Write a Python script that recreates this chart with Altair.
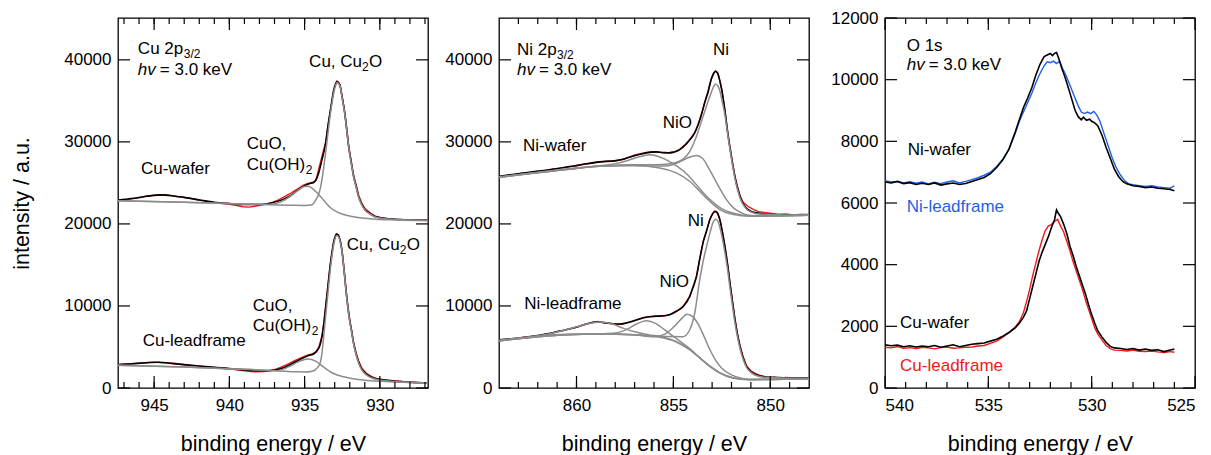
import altair as alt
import pandas as pd

FONT = "Liberation Sans"
GRAY = "#8c8c8c"
RED = "#f01818"
BLUE = "#1f5fe6"

# ---------------- Cu 2p3/2 ----------------
cu_wafer_data = [(947.4, 22800), (947.1, 22950), (946.8, 22900), (946.5, 23050), (946.2, 23150), (945.9, 23200),
                 (945.5, 23400), (945.1, 23450), (944.7, 23500), (944.3, 23550), (943.9, 23450), (943.5, 23350),
                 (943.1, 23300), (942.7, 23150), (942.3, 23050), (941.9, 22900), (941.5, 22750), (941.1, 22600),
                 (940.7, 22550), (940.3, 22450), (939.9, 22350), (939.5, 22250), (939.1, 22100), (938.7, 22050),
                 (938.3, 22150), (937.9, 22300), (937.5, 22450), (937.1, 22650), (936.7, 22950), (936.3, 23350),
                 (936.0, 23650), (935.7, 24000), (935.4, 24350), (935.1, 24700), (934.8, 24950), (934.5, 25050),
                 (934.25, 25300), (934.1, 26400), (933.85, 28200), (933.6, 30000), (933.45, 31900), (933.28, 33900),
                 (933.06, 36300), (932.85, 37400), (932.65, 36950), (932.5, 35450), (932.33, 33550), (932.2, 31600),
                 (932.07, 29500), (931.9, 27600), (931.74, 25900), (931.55, 24600), (931.41, 23500), (931.2, 22550),
                 (930.97, 21850), (930.6, 21300), (930.31, 20950), (930.0, 20780), (929.7, 20700), (929.3, 20620),
                 (929.0, 20560), (928.6, 20530), (928.2, 20480), (927.8, 20500), (927.4, 20440), (927.0, 20460),
                 (926.8, 20420)]
cu_wafer_fit = [(947.4, 22900), (946.5, 23090), (945.5, 23370), (944.6, 23540), (943.7, 23410), (942.8, 23170),
                (941.9, 22890), (941.0, 22640), (940.0, 22480), (939.0, 22360), (938.0, 22360), (937.3, 22520),
                (936.5, 22930), (936.0, 23370), (935.5, 24060), (935.0, 24670), (934.7, 24900), (934.4, 25050),
                (934.1, 26000), (933.85, 27800), (933.6, 29840), (933.45, 31900), (933.28, 33900), (933.06, 36340),
                (932.85, 37350), (932.65, 36900), (932.5, 35400), (932.33, 33500), (932.2, 31500), (932.07, 29430),
                (931.9, 27500), (931.74, 25770), (931.55, 24400), (931.41, 23330), (931.2, 22400), (930.97, 21710),
                (930.6, 21200), (930.31, 20890), (929.7, 20680), (929.0, 20570), (928.0, 20500), (926.8, 20450)]
cu_wafer_main = [(947.4, 22810), (943.0, 22650), (938.6, 22400), (936.0, 22280), (935.0, 22250), (934.5, 22330),
                 (934.26, 22900), (934.05, 23700), (933.93, 24550), (933.72, 26990), (933.5, 30240), (933.28, 33500),
                 (933.06, 36000), (932.85, 37230), (932.65, 36800), (932.5, 35300), (932.33, 33400), (932.2, 31400),
                 (932.07, 29350), (931.9, 27400), (931.74, 25700), (931.55, 24300), (931.41, 23250), (931.2, 22300),
                 (930.97, 21650), (930.6, 21150), (930.31, 20850), (929.7, 20640), (929.0, 20540), (928.0, 20470),
                 (926.8, 20420)]
cu_wafer_cuo = [(947.4, 22810), (943.0, 22650), (938.6, 22420), (937.33, 22400), (936.8, 22550), (936.4, 22850),
                (936.0, 23300), (935.5, 24000), (935.03, 24550), (934.8, 24600), (934.6, 24480), (934.26, 23950),
                (933.9, 23250), (933.6, 22600), (933.3, 22000), (932.95, 21550), (932.4, 21150), (931.85, 20900),
                (931.0, 20700), (930.31, 20580), (929.0, 20480), (927.5, 20420), (926.8, 20400)]

cu_lead_data = [(947.4, 2800), (947.0, 2900), (946.6, 2920), (946.2, 3000), (945.8, 3050), (945.4, 3100),
                (945.0, 3150), (944.6, 3100), (944.2, 3080), (943.8, 2980), (943.4, 2900), (943.0, 2830),
                (942.6, 2750), (942.2, 2700), (941.8, 2620), (941.4, 2580), (941.0, 2500), (940.6, 2430),
                (940.2, 2350), (939.8, 2280), (939.4, 2180), (939.0, 2100), (938.6, 2000), (938.2, 1980),
                (937.8, 2020), (937.4, 2100), (937.0, 2250), (936.6, 2500), (936.3, 2750), (936.0, 3000),
                (935.7, 3300), (935.4, 3550), (935.1, 3800), (934.8, 4000), (934.5, 4150), (934.25, 4400),
                (934.05, 5000), (933.85, 6300), (933.72, 7950), (933.5, 11600), (933.28, 15250), (933.06, 17900),
                (932.88, 18800), (932.75, 18650), (932.62, 17900), (932.5, 16550), (932.4, 14850), (932.18, 10800),
                (932.0, 8300), (931.89, 7150), (931.75, 5650), (931.59, 4400), (931.4, 3250), (931.2, 2450),
                (930.9, 1800), (930.54, 1380), (930.2, 1150), (929.8, 1020), (929.4, 950), (929.0, 850),
                (928.6, 820), (928.2, 720), (927.8, 700), (927.4, 640), (927.0, 650), (926.8, 600)]
cu_lead_fit = [(947.4, 2850), (946.5, 2950), (945.5, 3080), (944.7, 3130), (943.8, 3000), (943.0, 2850),
               (942.0, 2680), (941.0, 2520), (940.0, 2380), (939.0, 2200), (938.2, 2110), (937.3, 2110),
               (936.5, 2400), (936.0, 2800), (935.5, 3300), (935.0, 3750), (934.7, 3980), (934.4, 4150),
               (934.15, 4600), (934.0, 5100), (933.85, 6200), (933.72, 7890), (933.5, 11550), (933.28, 15200),
               (933.06, 17840), (932.88, 18780), (932.75, 18600), (932.62, 17840), (932.5, 16500), (932.4, 14790),
               (932.18, 10730), (932.0, 8200), (931.89, 7070), (931.75, 5500), (931.59, 4230), (931.4, 3100),
               (931.2, 2300), (930.9, 1700), (930.54, 1300), (930.0, 1050), (929.44, 900), (928.5, 760),
               (927.5, 650), (926.8, 600)]
cu_lead_main = [(947.4, 2760), (943.0, 2560), (938.6, 2240), (936.9, 2110), (935.5, 1980), (935.0, 1950),
                (934.5, 2050), (934.24, 2300), (934.0, 2900), (933.85, 4200), (933.72, 6500), (933.5, 10600),
                (933.28, 14600), (933.06, 17500), (932.88, 18600), (932.75, 18450), (932.62, 17700), (932.5, 16400),
                (932.4, 14700), (932.18, 10650), (932.0, 8100), (931.89, 7000), (931.75, 5430), (931.59, 4150),
                (931.4, 3000), (931.2, 2200), (930.9, 1600), (930.54, 1220), (930.0, 980), (929.44, 840),
                (928.5, 720), (927.5, 620), (926.8, 580)]
cu_lead_cuo = [(947.4, 2760), (943.0, 2560), (938.6, 2240), (936.9, 2110), (936.4, 2300), (936.0, 2640),
               (935.34, 3250), (934.8, 3540), (934.24, 3250), (933.8, 2640), (933.15, 1830), (932.5, 1400),
               (932.05, 1220), (931.0, 950), (929.86, 810), (928.5, 700), (927.0, 610), (926.8, 600)]

# ---------------- Ni 2p3/2 ----------------
ni_wafer_data = [(864.0, 25700), (863.6, 25900), (863.2, 26000), (862.8, 26200), (862.4, 26250), (862.0, 26450),
                 (861.6, 26500), (861.2, 26700), (860.8, 26800), (860.4, 27000), (860.0, 27050), (859.6, 27300),
                 (859.2, 27400), (858.8, 27550), (858.4, 27650), (858.0, 27700), (857.6, 27850), (857.3, 28100),
                 (857.0, 28400), (856.7, 28550), (856.4, 28700), (856.1, 28800), (855.8, 28750), (855.5, 28650),
                 (855.2, 28700), (854.9, 28850), (854.67, 29100), (854.33, 29800), (854.1, 30450), (853.9, 31150),
                 (853.72, 32150), (853.55, 33350), (853.38, 34850), (853.2, 36200), (853.05, 37650), (852.95, 38250),
                 (852.83, 38650), (852.72, 38450), (852.64, 37850), (852.5, 36350), (852.34, 33850), (852.2, 31250),
                 (852.08, 29350), (851.95, 27450), (851.82, 25800), (851.69, 24500), (851.56, 23450), (851.4, 22650),
                 (851.13, 22100), (850.9, 21800), (850.6, 21500), (850.3, 21400), (850.0, 21300), (849.6, 21150),
                 (849.2, 21200), (848.8, 21080), (848.4, 21150), (848.0, 21100)]
ni_wafer_fit = [(864.0, 25810), (863.0, 26100), (862.27, 26340), (861.4, 26600), (860.55, 26910), (859.7, 27250),
                (858.8, 27560), (857.95, 27720), (857.5, 27950), (857.1, 28250), (856.7, 28500), (856.4, 28660),
                (855.9, 28780), (855.5, 28700), (855.2, 28660), (854.9, 28800), (854.67, 29060), (854.33, 29760),
                (854.1, 30400), (853.9, 31100), (853.72, 32100), (853.55, 33330), (853.38, 34800), (853.2, 36180),
                (853.05, 37600), (852.95, 38210), (852.83, 38600), (852.72, 38400), (852.64, 37800), (852.5, 36300),
                (852.34, 33800), (852.2, 31200), (852.08, 29300), (851.95, 27400), (851.82, 25700), (851.69, 24400),
                (851.56, 23350), (851.4, 22500), (851.22, 21900), (851.0, 21550), (850.7, 21350), (850.2, 21200),
                (849.3, 21100), (848.0, 21130)]
ni_wafer_ni = [(864.0, 25760), (862.0, 26300), (860.55, 26700), (858.8, 27050), (857.1, 27200), (856.0, 27200),
               (855.02, 27400), (854.5, 27890), (854.16, 28820), (853.81, 30650), (853.47, 33090), (853.12, 35520),
               (852.95, 36600), (852.83, 37070), (852.7, 36800), (852.6, 36200), (852.47, 34800), (852.34, 33300),
               (852.2, 31000), (852.08, 29100), (851.95, 27200), (851.82, 25500), (851.69, 24200), (851.56, 23150),
               (851.4, 22350), (851.22, 21800), (850.95, 21420), (850.7, 21250), (849.32, 21100), (848.0, 21120)]
ni_wafer_nio = [(864.0, 25690), (860.55, 26630), (858.8, 27030), (857.1, 27110), (856.2, 27050), (855.5, 27050),
                (855.0, 27250), (854.6, 27650), (854.2, 28100), (853.81, 28330), (853.5, 28000), (853.2, 26900),
                (852.9, 25600), (852.6, 24300), (852.25, 22930), (851.9, 21950), (851.56, 21450), (851.2, 21100),
                (850.5, 20980), (849.0, 21000), (848.0, 21060)]
ni_wafer_sat = [(864.0, 25690), (860.55, 26630), (859.5, 26900), (858.8, 27100), (858.0, 27350), (857.4, 27700),
                (856.8, 28150), (856.23, 28420), (855.7, 28150), (855.2, 27600), (854.8, 27000), (854.4, 26300),
                (854.0, 25300), (853.64, 24300), (853.12, 23000), (852.6, 22000), (851.9, 21300), (851.05, 21000),
                (848.0, 21060)]
ni_wafer_bg = [(864.0, 25690), (860.55, 26630), (858.8, 27030), (857.1, 27110), (855.7, 26830), (854.85, 26220),
               (854.16, 25200), (853.64, 23980), (853.12, 22760), (852.6, 21750), (851.9, 21140), (851.05, 20930),
               (848.0, 21060)]

ni_lead_data = [(864.0, 5750), (863.7, 5800), (863.4, 6000), (863.1, 6050), (862.8, 6150), (862.5, 6250),
                (862.2, 6300), (861.9, 6400), (861.6, 6550), (861.3, 6650), (861.0, 6900), (860.7, 7000),
                (860.4, 7200), (860.1, 7350), (859.8, 7550), (859.5, 7800), (859.2, 7950), (858.9, 8100),
                (858.6, 7950), (858.3, 7900), (858.0, 7800), (857.7, 7750), (857.4, 7900), (857.1, 8150),
                (856.8, 8400), (856.5, 8600), (856.2, 8700), (855.9, 8800), (855.6, 8750), (855.3, 8850),
                (855.0, 9100), (854.8, 9400), (854.5, 9950), (854.16, 11150), (853.98, 12350), (853.81, 13600),
                (853.64, 15750), (853.45, 17950), (853.29, 19150), (853.12, 20550), (852.98, 21250), (852.86, 21580),
                (852.75, 21450), (852.6, 20550), (852.47, 19050), (852.34, 17300), (852.2, 15050), (852.08, 12850),
                (851.95, 10600), (851.82, 8400), (851.69, 6600), (851.56, 5150), (851.4, 3800), (851.22, 2700),
                (851.0, 2100), (850.7, 1700), (850.4, 1450), (850.1, 1300), (849.8, 1350), (849.5, 1200),
                (849.2, 1280), (848.9, 1250), (848.6, 1180), (848.3, 1230), (848.0, 1200)]
ni_lead_fit = [(864.0, 5890), (863.0, 6080), (862.27, 6300), (861.5, 6600), (860.9, 6910), (860.03, 7400),
               (859.5, 7800), (859.0, 8050), (858.7, 8020), (858.47, 7930), (858.1, 7830), (857.78, 7800),
               (857.4, 7950), (857.1, 8130), (856.7, 8450), (856.4, 8620), (855.88, 8740), (855.5, 8800),
               (855.2, 8940), (854.85, 9350), (854.5, 9900), (854.16, 11130), (853.98, 12300), (853.81, 13570),
               (853.64, 15700), (853.45, 17900), (853.29, 19100), (853.12, 20500), (852.98, 21200), (852.86, 21520),
               (852.75, 21400), (852.6, 20490), (852.47, 19000), (852.34, 17230), (852.2, 15000), (852.08, 12770),
               (851.95, 10500), (851.82, 8290), (851.69, 6500), (851.56, 5040), (851.4, 3700), (851.22, 2600),
               (851.0, 2000), (850.7, 1590), (850.2, 1350), (849.32, 1250), (848.5, 1200), (848.0, 1220)]
ni_lead_ni = [(864.0, 5800), (860.55, 6550), (858.0, 6580), (856.5, 6420), (855.36, 6280), (854.5, 6260),
              (854.16, 7070), (853.9, 9110), (853.64, 13170), (853.45, 15600), (853.29, 17230), (853.1, 19000),
              (852.95, 20200), (852.83, 20570), (852.72, 20400), (852.6, 19600), (852.47, 18200), (852.34, 16500),
              (852.2, 14400), (852.08, 12200), (851.95, 10000), (851.82, 7900), (851.69, 6200), (851.56, 4800),
              (851.4, 3500), (851.22, 2500), (851.0, 1900), (850.7, 1500), (850.2, 1300), (849.32, 1230),
              (848.0, 1180)]
ni_lead_nio = [(864.0, 5770), (860.55, 6500), (858.8, 6590), (857.1, 6500), (856.0, 6250), (855.5, 6500),
               (855.0, 7400), (854.6, 8400), (854.3, 9000), (854.0, 8700), (853.7, 7700), (853.4, 6200),
               (853.1, 4600), (852.8, 3300), (852.5, 2400), (852.0, 1600), (851.5, 1200), (851.05, 1050),
               (848.0, 1140)]
ni_lead_sat2 = [(864.0, 5770), (860.55, 6500), (858.8, 6600), (858.0, 6700), (857.4, 7150), (856.9, 7800),
                (856.4, 8210), (855.9, 7850), (855.4, 7000), (855.0, 6300), (854.5, 5400), (854.16, 4800),
                (853.64, 3700), (853.12, 2660), (852.6, 1850), (851.9, 1230), (851.05, 1030), (848.0, 1140)]
ni_lead_sat1 = [(864.0, 5770), (862.5, 6150), (861.5, 6550), (860.7, 7000), (860.0, 7450), (859.4, 7850),
                (858.8, 8050), (858.2, 7850), (857.6, 7300), (857.0, 6850), (856.3, 6500), (855.5, 6200),
                (854.85, 5650), (854.16, 4700), (853.64, 3680), (853.12, 2660), (852.6, 1850), (851.9, 1230),
                (851.05, 1030), (848.0, 1140)]
ni_lead_bg = [(864.0, 5770), (860.55, 6500), (858.8, 6590), (857.1, 6500), (855.7, 6180), (854.85, 5610),
              (854.16, 4670), (853.64, 3660), (853.12, 2640), (852.6, 1830), (851.9, 1220), (851.05, 1020),
              (848.0, 1140)]

# ---------------- O 1s ----------------
o_ni_wafer = [(540.0, 6680), (539.7, 6650), (539.4, 6700), (539.1, 6630), (538.8, 6660), (538.5, 6600),
              (538.2, 6640), (537.9, 6600), (537.6, 6650), (537.3, 6580), (537.0, 6620), (536.7, 6650),
              (536.4, 6600), (536.1, 6630), (535.8, 6700), (535.5, 6760), (535.2, 6830), (534.9, 6950),
              (534.6, 7150), (534.3, 7400), (534.0, 7750), (533.7, 8300), (533.5, 8700), (533.3, 9100),
              (533.1, 9400), (532.9, 9730), (532.7, 10150), (532.5, 10500), (532.3, 10750), (532.15, 10800),
              (532.0, 10850), (531.9, 10780), (531.8, 10850), (531.7, 10880), (531.6, 10700), (531.45, 10380),
              (531.3, 10100), (531.2, 9890), (531.0, 9450), (530.8, 9000), (530.65, 8800), (530.5, 8700),
              (530.4, 8780), (530.25, 8680), (530.1, 8720), (530.0, 8650), (529.85, 8600), (529.7, 8500),
              (529.5, 8200), (529.3, 7800), (529.1, 7450), (528.9, 7100), (528.7, 6860), (528.5, 6700),
              (528.3, 6620), (528.0, 6560), (527.7, 6540), (527.4, 6500), (527.1, 6520), (526.8, 6480),
              (526.5, 6460), (526.2, 6440), (526.0, 6400)]
o_ni_lead = [(540.0, 6720), (539.7, 6680), (539.4, 6700), (539.1, 6650), (538.8, 6690), (538.5, 6640),
             (538.2, 6680), (537.9, 6620), (537.6, 6670), (537.3, 6630), (537.0, 6680), (536.7, 6720),
             (536.4, 6650), (536.1, 6700), (535.8, 6760), (535.5, 6820), (535.2, 6900), (534.9, 7000),
             (534.6, 7180), (534.3, 7420), (534.0, 7750), (533.7, 8250), (533.5, 8650), (533.3, 8950),
             (533.1, 9250), (532.9, 9550), (532.7, 9900), (532.5, 10200), (532.3, 10450), (532.15, 10580),
             (532.0, 10550), (531.85, 10600), (531.7, 10520), (531.55, 10600), (531.4, 10350), (531.25, 10150),
             (531.1, 9900), (530.95, 9650), (530.8, 9400), (530.65, 9150), (530.5, 8950), (530.35, 8900),
             (530.2, 8950), (530.05, 8900), (529.9, 8970), (529.75, 8850), (529.6, 8650), (529.4, 8250),
             (529.2, 7850), (529.0, 7450), (528.8, 7130), (528.6, 6900), (528.4, 6720), (528.2, 6620),
             (528.0, 6590), (527.7, 6560), (527.4, 6540), (527.1, 6560), (526.8, 6520), (526.5, 6500),
             (526.2, 6480), (526.0, 6560)]
o_cu_wafer = [(540.0, 1400), (539.7, 1370), (539.4, 1390), (539.1, 1340), (538.8, 1370), (538.5, 1330),
              (538.2, 1360), (537.9, 1340), (537.6, 1380), (537.3, 1320), (537.0, 1360), (536.7, 1400),
              (536.4, 1340), (536.1, 1380), (535.8, 1420), (535.5, 1440), (535.2, 1460), (534.9, 1520),
              (534.6, 1580), (534.3, 1680), (534.0, 1800), (533.7, 1950), (533.5, 2100), (533.3, 2300),
              (533.15, 2500), (533.0, 2900), (532.85, 3300), (532.7, 3700), (532.55, 4100), (532.4, 4400),
              (532.25, 4650), (532.1, 4900), (531.95, 5200), (531.8, 5450), (531.7, 5780), (531.6, 5650),
              (531.5, 5550), (531.35, 5300), (531.2, 5000), (531.05, 4600), (530.9, 4300), (530.75, 3950),
              (530.6, 3650), (530.45, 3350), (530.3, 3050), (530.15, 2700), (530.0, 2380), (529.85, 2100),
              (529.7, 1850), (529.5, 1650), (529.3, 1480), (529.1, 1350), (528.9, 1300), (528.6, 1280),
              (528.3, 1250), (528.0, 1280), (527.7, 1230), (527.4, 1260), (527.1, 1220), (526.8, 1240),
              (526.5, 1180), (526.2, 1230), (526.0, 1260)]
o_cu_lead = [(540.0, 1320), (539.7, 1300), (539.4, 1340), (539.1, 1290), (538.8, 1310), (538.5, 1280),
             (538.2, 1320), (537.9, 1300), (537.6, 1270), (537.3, 1310), (537.0, 1330), (536.7, 1290),
             (536.4, 1300), (536.1, 1320), (535.8, 1330), (535.5, 1360), (535.2, 1380), (534.9, 1450),
             (534.6, 1520), (534.3, 1650), (534.0, 1800), (533.7, 1980), (533.5, 2150), (533.3, 2450),
             (533.15, 2800), (533.0, 3200), (532.85, 3650), (532.7, 4050), (532.55, 4450), (532.4, 4800),
             (532.25, 5100), (532.1, 5250), (531.95, 5300), (531.8, 5400), (531.65, 5470), (531.5, 5250),
             (531.35, 5050), (531.2, 4750), (531.05, 4450), (530.9, 4100), (530.75, 3800), (530.6, 3500),
             (530.45, 3200), (530.3, 2850), (530.15, 2550), (530.0, 2250), (529.85, 1950), (529.7, 1750),
             (529.5, 1550), (529.3, 1380), (529.1, 1280), (528.9, 1230), (528.6, 1220), (528.3, 1200),
             (528.0, 1230), (527.7, 1190), (527.4, 1180), (527.1, 1200), (526.8, 1170), (526.5, 1150),
             (526.2, 1180), (526.0, 1160)]

# axis tick values
cu_x_major = [945, 940, 935, 930]
cu_x_minor = list(range(927, 948))
ni_x_major = [860, 855, 850]
ni_x_minor = list(range(849, 864))
o_x_major = [540, 535, 530, 525]
o_x_minor = list(range(526, 540))
big_y_major = [0, 10000, 20000, 30000, 40000]
o_y_major = [0, 2000, 4000, 6000, 8000, 10000, 12000]

# annotations: (text, E, I, dx, dy, size, style, color)
cu_notes = [
    ("Cu 2p", 946.08, 40730, 0, 0, 17, "normal", "black"),
    ("3/2", 946.08, 40730, 46, 4, 12, "normal", "black"),
    ("hv", 946.08, 38210, 0, 0, 17, "italic", "black"),
    ("= 3.0 keV", 946.08, 38210, 22, 0, 17, "normal", "black"),
    ("Cu, Cu", 934.7, 39110, 0, 0, 17, "normal", "black"),
    ("2", 934.7, 39110, 53, 4, 12, "normal", "black"),
    ("O", 934.7, 39110, 60, 0, 17, "normal", "black"),
    ("CuO,", 938.85, 29150, 0, 0, 17, "normal", "black"),
    ("Cu(OH)", 938.85, 26620, 0, 0, 17, "normal", "black"),
    ("2", 938.85, 26620, 59, 4, 12, "normal", "black"),
    ("Cu-wafer", 945.87, 26100, 0, 0, 17, "normal", "black"),
    ("Cu, Cu", 932.2, 16870, 0, 0, 17, "normal", "black"),
    ("2", 932.2, 16870, 53, 4, 12, "normal", "black"),
    ("O", 932.2, 16870, 60, 0, 17, "normal", "black"),
    ("CuO,", 938.45, 9390, 0, 0, 17, "normal", "black"),
    ("Cu(OH)", 938.45, 6950, 0, 0, 17, "normal", "black"),
    ("2", 938.45, 6950, 59, 4, 12, "normal", "black"),
    ("Cu-leadframe", 945.76, 5120, 0, 0, 17, "normal", "black"),
]
ni_notes = [
    ("Ni 2p", 863.07, 40650, 0, 0, 17, "normal", "black"),
    ("3/2", 863.07, 40650, 40, 4, 12, "normal", "black"),
    ("hv", 863.07, 38210, 0, 0, 17, "italic", "black"),
    ("= 3.0 keV", 863.07, 38210, 22, 0, 17, "normal", "black"),
    ("Ni", 852.96, 40570, 0, 0, 17, "normal", "black"),
    ("NiO", 855.55, 31710, 0, 0, 17, "normal", "black"),
    ("Ni-wafer", 862.76, 28870, 0, 0, 17, "normal", "black"),
    ("Ni", 854.26, 19720, 0, 0, 17, "normal", "black"),
    ("NiO", 855.71, 12280, 0, 0, 17, "normal", "black"),
    ("Ni-leadframe", 862.7, 9630, 0, 0, 17, "normal", "black"),
]
o_notes = [
    ("O 1s", 538.95, 10920, 0, 0, 17, "normal", "black"),
    ("hv", 538.95, 10300, 0, 0, 17, "italic", "black"),
    ("= 3.0 keV", 538.95, 10300, 22, 0, 17, "normal", "black"),
    ("Ni-wafer", 538.9, 7570, 0, 0, 17, "normal", "black"),
    ("Ni-leadframe", 538.95, 5700, 0, 0, 17, "normal", BLUE),
    ("Cu-wafer", 539.27, 1950, 0, 0, 17, "normal", "black"),
    ("Cu-leadframe", 539.27, 540, 0, 0, 17, "normal", RED),
]

W, H = 310, 370
MAJ, MIN = 12, 6


def frame(pairs, name):
    return pd.DataFrame({"E": [p[0] for p in pairs], "I": [p[1] for p in pairs], "s": name})


def panel(xdom, ydom, black, gray, red, blue, xmaj, xmin, ymaj, notes, ytitle, fit_interp="monotone",
          ylabpad=7):
    xs = alt.Scale(domain=xdom, nice=False, zero=False)
    ys = alt.Scale(domain=ydom, nice=False, zero=False)
    xax = alt.Axis(values=xmaj, title="binding energy / eV", ticks=False, domain=False, grid=False,
                   labelFont=FONT, labelFontSize=17, labelColor="black", labelPadding=9,
                   titleFont=FONT, titleFontSize=21.5, titleFontWeight="normal", titleColor="black",
                   titlePadding=20, format="d")
    yax_kw = dict(values=ymaj, ticks=False, domain=False, grid=False, labelFont=FONT, labelFontSize=17,
                  labelColor="black", labelPadding=ylabpad, format="d", titleFont=FONT, titleFontSize=21.5,
                  titleFontWeight="normal", titleColor="black", titlePadding=30)
    yax = alt.Axis(title="intensity / a.u.", **yax_kw) if ytitle else alt.Axis(title=None, **yax_kw)

    X = alt.X("E:Q", scale=xs, axis=xax)
    Y = alt.Y("I:Q", scale=ys, axis=yax)
    layers = []

    def line_layer(frames, color, width, interp):
        d = pd.concat(frames, ignore_index=True)
        return alt.Chart(d).mark_line(color=color, strokeWidth=width, interpolate=interp, clip=True).encode(
            x=X, y=Y, detail="s:N")

    for frames, color, width, interp in [(red, RED, 1.4, "linear"), (blue, BLUE, 1.4, "linear"),
                                          (black, "black", 1.6, fit_interp), (gray, GRAY, 1.5, "monotone")]:
        if frames:
            layers.append(line_layer(frames, color, width, interp))

    def xt(vals, length):
        d = pd.DataFrame({"E": vals})
        b = alt.Chart(d).mark_rule(color="black", strokeWidth=1.2).encode(
            x=X, y=alt.value(H), y2=alt.value(H - length))
        t = alt.Chart(d).mark_rule(color="black", strokeWidth=1.2).encode(
            x=X, y=alt.value(0), y2=alt.value(length))
        return [b, t]

    def yt(vals, length):
        d = pd.DataFrame({"I": vals})
        l = alt.Chart(d).mark_rule(color="black", strokeWidth=1.2).encode(
            y=Y, x=alt.value(0), x2=alt.value(length))
        r = alt.Chart(d).mark_rule(color="black", strokeWidth=1.2).encode(
            y=Y, x=alt.value(W), x2=alt.value(W - length))
        return [l, r]

    layers += xt(xmin, MIN) + xt(xmaj, MAJ) + yt(ymaj, MAJ)

    for (txt, e, i, dx, dy, size, style, color) in notes:
        d = pd.DataFrame({"E": [e], "I": [i], "t": [txt]})
        layers.append(alt.Chart(d).mark_text(align="left", baseline="alphabetic", dx=dx, dy=dy, font=FONT,
                                             fontSize=size, fontStyle=style, color=color).encode(
            x=X, y=Y, text="t:N"))

    return alt.layer(*layers).properties(width=W, height=H)


p1 = panel([947.4, 926.8], [0, 45100],
           black=[frame(cu_wafer_fit, "a"), frame(cu_lead_fit, "b")],
           gray=[frame(cu_wafer_main, "a1"), frame(cu_wafer_cuo, "a2"),
                 frame(cu_lead_main, "b1"), frame(cu_lead_cuo, "b2")],
           red=[frame(cu_wafer_data, "a"), frame(cu_lead_data, "b")], blue=[],
           xmaj=cu_x_major, xmin=cu_x_minor, ymaj=big_y_major, notes=cu_notes, ytitle=True)

p2 = panel([864.0, 848.0], [0, 45100],
           black=[frame(ni_wafer_fit, "a"), frame(ni_lead_fit, "b")],
           gray=[frame(ni_wafer_ni, "a1"), frame(ni_wafer_nio, "a2"), frame(ni_wafer_sat, "a3"),
                 frame(ni_wafer_bg, "a4"), frame(ni_lead_ni, "b1"), frame(ni_lead_nio, "b2"),
                 frame(ni_lead_sat2, "b3"), frame(ni_lead_sat1, "b4"), frame(ni_lead_bg, "b5")],
           red=[frame(ni_wafer_data, "a"), frame(ni_lead_data, "b")], blue=[],
           xmaj=ni_x_major, xmin=ni_x_minor, ymaj=big_y_major, notes=ni_notes, ytitle=False)

p3 = panel([540.0, 525.0], [0, 12000],
           black=[frame(o_ni_wafer, "a"), frame(o_cu_wafer, "b")],
           gray=[], red=[frame(o_cu_lead, "c")], blue=[frame(o_ni_lead, "d")],
           xmaj=o_x_major, xmin=o_x_minor, ymaj=o_y_major, notes=o_notes, ytitle=False,
           fit_interp="linear")

chart = alt.hconcat(alt.hconcat(p1, p2, spacing=14), p3, spacing=19).properties(
    padding={"left": 3, "top": 0, "right": 5, "bottom": 0}
).configure_view(stroke="black", strokeWidth=1.3)

chart.save("out.html", embed_options={"renderer": "svg", "actions": False})
